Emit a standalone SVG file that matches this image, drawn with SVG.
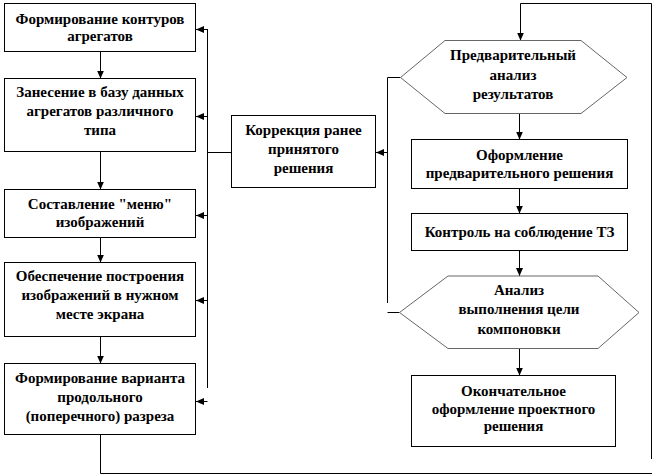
<svg xmlns="http://www.w3.org/2000/svg" width="652" height="475" viewBox="0 0 652 475">
<style>
.box{fill:#fff;stroke:#000;stroke-width:1}
.hex{fill:#fff;stroke:#666;stroke-width:1}
.t{font-family:"Liberation Serif","Times New Roman",serif;font-weight:bold;font-size:15px;fill:#000;text-anchor:middle}
.c{fill:none;stroke:#000;stroke-width:1}
</style>
<defs>
<marker id="ah" markerUnits="userSpaceOnUse" markerWidth="9" markerHeight="8" refX="8" refY="4" orient="auto">
<path d="M0,0.5 L8,4 L0,7.5 z" fill="#000"/>
</marker>
</defs>
<rect width="652" height="475" fill="#fff"/>
<g id="connectors">
<path class="c" d="M100.5,51.5 V78.5" marker-end="url(#ah)"/>
<path class="c" d="M100.5,151.5 V189.5" marker-end="url(#ah)"/>
<path class="c" d="M100.5,237.5 V262.5" marker-end="url(#ah)"/>
<path class="c" d="M100.5,336.5 V363.5" marker-end="url(#ah)"/>
<path class="c" d="M207.5,29 V388"/>
<path class="c" d="M207.5,29.5 H196" marker-end="url(#ah)"/>
<path class="c" d="M207.5,116.5 H196" marker-end="url(#ah)"/>
<path class="c" d="M207.5,215.5 H196" marker-end="url(#ah)"/>
<path class="c" d="M207.5,300.5 H196" marker-end="url(#ah)"/>
<path class="c" d="M207.5,401.5 H196" marker-end="url(#ah)"/>
<path class="c" d="M207.5,152.5 H231.5"/>
<path class="c" d="M400.5,77.5 H387.5 V303"/>
<path class="c" d="M387.5,312.5 H399.5"/>
<path class="c" d="M387.5,152.5 H376" marker-end="url(#ah)"/>
<path class="c" d="M519.5,113.5 V139.5" marker-end="url(#ah)"/>
<path class="c" d="M519.5,188.5 V213.5" marker-end="url(#ah)"/>
<path class="c" d="M519.5,250.5 V276" marker-end="url(#ah)"/>
<path class="c" d="M519.5,348.5 V375.5" marker-end="url(#ah)"/>
<path class="c" d="M100.5,434.5 V473.5 H652"/>
<path class="c" d="M651.5,459 V3.5 H520.5 V40.5" marker-end="url(#ah)"/>
</g>
<g id="n1"><rect class="box" x="4.5" y="3.5" width="191" height="48"/>
<text class="t" x="100" y="23.5">Формирование контуров</text><text class="t" x="100" y="40.5">агрегатов</text></g>
<g id="n2"><rect class="box" x="4.5" y="78.5" width="191" height="73"/>
<text class="t" x="100" y="97">Занесение в базу данных</text><text class="t" x="100" y="116">агрегатов различного</text><text class="t" x="100" y="135">типа</text></g>
<g id="n3"><rect class="box" x="4.5" y="189.5" width="191" height="48"/>
<text class="t" x="100" y="208.5">Составление "меню"</text><text class="t" x="100" y="226.5">изображений</text></g>
<g id="n4"><rect class="box" x="4.5" y="262.5" width="191" height="74"/>
<text class="t" x="100" y="281">Обеспечение построения</text><text class="t" x="100" y="300">изображений в нужном</text><text class="t" x="100" y="319">месте экрана</text></g>
<g id="n5"><rect class="box" x="4.5" y="363.5" width="191" height="71"/>
<text class="t" x="100" y="383">Формирование варианта</text><text class="t" x="100" y="402">продольного</text><text class="t" x="100" y="420.5">(поперечного) разреза</text></g>
<g id="n6"><rect class="box" x="231.5" y="115.5" width="144" height="72"/>
<text class="t" x="303.5" y="134.5">Коррекция ранее</text><text class="t" x="303.5" y="153.5">принятого</text><text class="t" x="303.5" y="172.5">решения</text></g>
<g id="n7"><polygon class="hex" points="400.5,77.5 445,40.5 581,40.5 627,77.5 581,113.5 445,113.5"/>
<text class="t" x="513" y="60">Предварительный</text><text class="t" x="513" y="79.5">анализ</text><text class="t" x="513" y="99">результатов</text></g>
<g id="n8"><rect class="box" x="411.5" y="139.5" width="216" height="49"/>
<text class="t" x="519.5" y="159.5">Оформление</text><text class="t" x="519.5" y="177.5">предварительного решения</text></g>
<g id="n9"><rect class="box" x="411.5" y="213.5" width="216" height="37"/>
<text class="t" x="519.5" y="236.5">Контроль на соблюдение ТЗ</text></g>
<g id="n10"><polygon class="hex" points="399.5,312.5 448,276 598,276 639,312.5 598,348.5 448,348.5"/>
<text class="t" x="519" y="294.5">Анализ</text><text class="t" x="519" y="314">выполнения цели</text><text class="t" x="519" y="333.5">компоновки</text></g>
<g id="n11"><rect class="box" x="411.5" y="375.5" width="204" height="71"/>
<text class="t" x="513.5" y="396">Окончательное</text><text class="t" x="513.5" y="413.5">оформление проектного</text><text class="t" x="513.5" y="431">решения</text></g>
</svg>
